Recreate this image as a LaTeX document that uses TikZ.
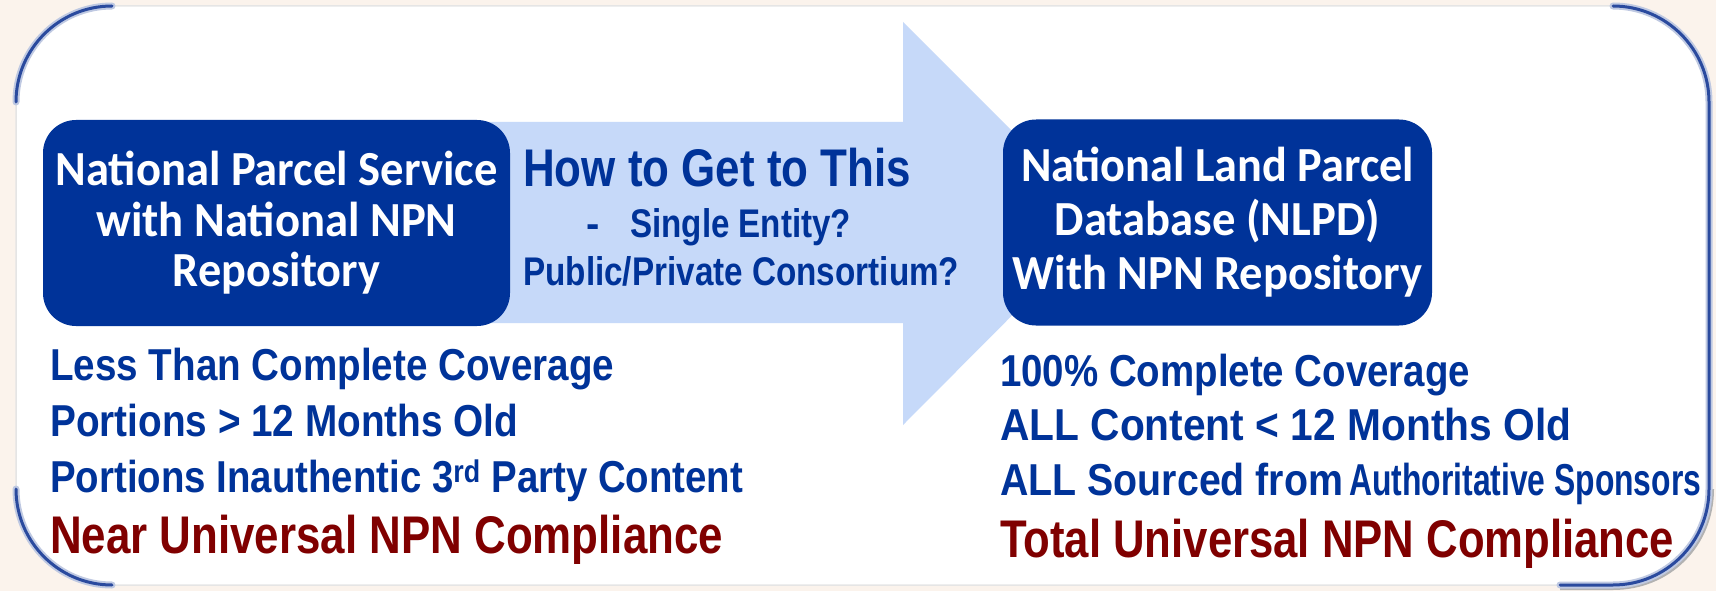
\documentclass[tikz,border=0pt]{standalone}
\usepackage{fontspec}
\usepackage{graphicx}
\setmainfont{Liberation Sans}
\newfontfamily\calibri{Carlito}
\usetikzlibrary{calc}

\definecolor{boxblue}{HTML}{003399}
\definecolor{txtblue}{HTML}{003399}
\definecolor{txtred}{HTML}{800000}
\definecolor{arrowblue}{HTML}{C6D9F9}
\definecolor{backpeach}{HTML}{FBF3EC}
\definecolor{rimblue}{HTML}{2A4A9E}

% squeeze a line to a given width, keep its height
\newcommand\fitw[2]{\resizebox{#1pt}{\height}{#2}}

\tikzset{
  parcelbox/.style={fill=boxblue, rounded corners=33pt, text=white, align=center,
    inner sep=0pt, minimum width=467pt, minimum height=206pt},
  bluetxt/.style={anchor=base west, inner sep=0pt, text=txtblue,
    font=\bfseries\fontsize{44.7}{50}\selectfont},
  redtxt/.style={anchor=base west, inner sep=0pt, text=txtred,
    font=\bfseries\fontsize{53}{58}\selectfont},
  rim/.style={rimblue, line width=3pt, line cap=round},
  rimglow/.style={rimblue!30, line width=7pt, line cap=round}
}

\begin{document}
\begin{tikzpicture}[x=1pt,y=-1pt]
\useasboundingbox (0,0) rectangle (1716,591);
\fill[backpeach] (0,0) rectangle (1716,591);
% frame
\draw[line width=1.5pt, gray!20, fill=white, rounded corners=96pt] (16,6) rectangle (1709,585);
\draw[gray!60, line width=4pt] (1712,489) .. controls (1712,545) and (1669,588) .. (1613,588) -- (1560,588);
\draw[rimglow] (16,102) .. controls (16,49) and (59,6) .. (112,6);
\draw[rim] (16,102) .. controls (16,49) and (59,6) .. (112,6);
\draw[rimglow] (1613,6) .. controls (1666,6) and (1709,49) .. (1709,102) -- (1709,489)
  .. controls (1709,542) and (1666,585) .. (1613,585) -- (1560,585);
\draw[rim] (1613,6) .. controls (1666,6) and (1709,49) .. (1709,102) -- (1709,489)
  .. controls (1709,542) and (1666,585) .. (1613,585) -- (1560,585);
\draw[rimglow] (112,585) .. controls (59,585) and (16,542) .. (16,489);
\draw[rim] (112,585) .. controls (59,585) and (16,542) .. (16,489);

% big arrow
\fill[arrowblue] (300,122) -- (903,122) -- (903,22) -- (1104,223) -- (903,425) -- (903,323) -- (300,323) -- cycle;

% the two boxes
\node[parcelbox, font=\calibri\bfseries\fontsize{49}{50.5}\selectfont] (nps) at (276.5,223)
  {\fitw{442}{National Parcel Service}\\ \fitw{360}{with National NPN}\\ \fitw{207}{Repository}};
\node[parcelbox, minimum width=429pt, font=\calibri\bfseries\fontsize{49}{54}\selectfont] (nlpd) at (1217.5,222.5)
  {\fitw{393}{National Land Parcel}\\ \fitw{325}{Database (NLPD)}\\ \fitw{410}{With NPN Repository}};

% arrow text
\node[bluetxt, font=\bfseries\fontsize{53}{58}\selectfont] (how) at (523,186) {\fitw{388}{How to Get to This}};
\node[bluetxt, font=\bfseries\fontsize{40}{44}\selectfont] (dash) at (586,237) {-};
\node[bluetxt, font=\bfseries\fontsize{40}{44}\selectfont] (single) at (630,237) {\fitw{221}{Single Entity?}};
\node[bluetxt, font=\bfseries\fontsize{40}{44}\selectfont] (consort) at (523,285) {\fitw{436}{Public/Private Consortium?}};

% left list
\node[bluetxt] (l1) at (50,380) {\fitw{564}{Less Than Complete Coverage}};
\node[bluetxt] (l2) at (50,436) {\fitw{468}{Portions > 12 Months Old}};
\node[bluetxt] (l3) at (50,492) {\fitw{693}{Portions Inauthentic 3\textsuperscript{rd} Party Content}};
\node[redtxt] (l4) at (50,553) {\fitw{673}{Near Universal NPN Compliance}};

% right list
\node[bluetxt] (r1) at (1000,386) {\fitw{470}{100\% Complete Coverage}};
\node[bluetxt] (r2) at (1000,440) {\fitw{571}{ALL Content < 12 Months Old}};
\node[bluetxt] (r3) at (1000,495) {\fitw{343}{ALL Sourced from}\hspace{6pt}\fitw{352}{Authoritative Sponsors}};
\node[redtxt] (r4) at (1000,557) {\fitw{674}{Total Universal NPN Compliance}};
\end{tikzpicture}
\end{document}
